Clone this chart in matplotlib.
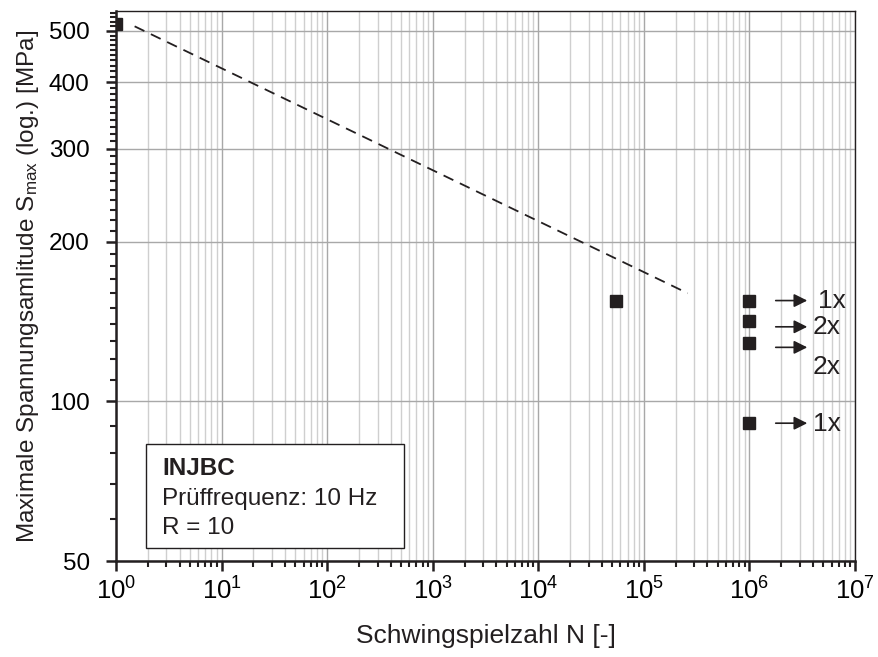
import matplotlib
matplotlib.use('Agg')
import matplotlib.pyplot as plt
from matplotlib.ticker import FixedLocator, NullFormatter, LogLocator, LogFormatterMathtext
from matplotlib.patches import Rectangle

plt.rcParams['font.family'] = ['Liberation Sans', 'DejaVu Sans']
plt.rcParams['mathtext.fontset'] = 'custom'
plt.rcParams['mathtext.rm'] = 'Liberation Sans'
plt.rcParams['mathtext.it'] = 'Liberation Sans'

# Versuchsdaten (Bruch / Durchlaeufer)
N_points = [1.0, 5.5e4, 1e6, 1e6, 1e6, 1e6]
S_points = [515, 155, 155, 142, 129, 91]

# Woehlerlinie (gestrichelt)
fit_N = [1.5, 2.6e5]
fit_S = [510, 160]

# Durchlaeufer-Pfeile
arrow_S = [155, 138.3, 126.5, 91.0]
arrow_start = 1.67e6
arrow_end = 3.75e6
runout_labels = ['1x', '2x', '2x', '1x']
runout_label_N = [4.45e6, 3.98e6, 3.98e6, 3.98e6]
runout_label_S = [155, 138.3, 116.3, 90.8]

y_major = [50, 100, 200, 300, 400, 500]
y_minor = [60, 70, 80, 90] + list(range(110, 200, 10)) + list(range(210, 300, 10)) \
    + list(range(310, 400, 10)) + list(range(410, 500, 10)) + list(range(510, 550, 10))

fig = plt.figure(figsize=(8.79, 6.57), dpi=100)
ax = fig.add_axes([0.132, 0.146, 0.8407, 0.8372])

ax.set_xscale('log')
ax.set_yscale('log')
ax.set_xlim(1, 1e7)
ax.set_ylim(50, 545)

# Gitter
ax.xaxis.set_major_locator(LogLocator(base=10, numticks=20))
ax.xaxis.set_minor_locator(LogLocator(base=10, subs=range(2, 10), numticks=20))
ax.xaxis.set_major_formatter(LogFormatterMathtext())
ax.xaxis.set_minor_formatter(NullFormatter())
ax.yaxis.set_major_locator(FixedLocator(y_major))
ax.yaxis.set_minor_locator(FixedLocator(y_minor))
ax.yaxis.set_major_formatter(plt.FuncFormatter(lambda v, p: '%d' % v))
ax.yaxis.set_minor_formatter(NullFormatter())

ax.grid(which='major', axis='x', color='#a8a8a8', lw=1.0)
ax.grid(which='minor', axis='x', color='#cfcfcf', lw=1.0)
ax.grid(which='major', axis='y', color='#a8a8a8', lw=1.0)
ax.set_axisbelow(True)

ax.tick_params(which='major', direction='out', length=7, width=1.8, labelsize=18.5, color='#231f20')
ax.tick_params(which='minor', direction='out', length=4, width=1.5, color='#231f20')
ax.tick_params(axis='x', which='major', pad=5)
ax.tick_params(axis='y', which='major', pad=12, labelsize=17.5)
for sp in ax.spines.values():
    sp.set_color('#231f20')
    sp.set_linewidth(1.0)
ax.spines['left'].set_linewidth(1.8)
ax.spines['bottom'].set_linewidth(1.8)

ax.plot(fit_N, fit_S, ls=(0, (6, 4)), color='#231f20', lw=1.3)
ax.plot(N_points, S_points, ls='none', marker='s', ms=8, color='#231f20')

for s in arrow_S:
    ax.annotate('', xy=(arrow_end, s), xytext=(arrow_start, s),
                arrowprops=dict(arrowstyle='-|>', color='#231f20', lw=1.2, mutation_scale=20))
for lab, n, s in zip(runout_labels, runout_label_N, runout_label_S):
    ax.text(n, s, lab, fontsize=19, va='center', ha='left', color='#231f20')

# Infobox
ax.add_patch(Rectangle((0.0402, 0.0242), 0.3495, 0.188, transform=ax.transAxes,
                       fill=True, facecolor='white', edgecolor='#231f20', lw=1.0, zorder=3))
ax.text(0.0622, 0.169, 'INJBC', transform=ax.transAxes, fontsize=17.5, fontweight='bold',
        va='center', zorder=4, color='#231f20')
ax.text(0.0622, 0.113, 'Prüffrequenz: 10 Hz', transform=ax.transAxes, fontsize=17.5,
        va='center', zorder=4, color='#231f20')
ax.text(0.0622, 0.060, 'R = 10', transform=ax.transAxes, fontsize=17.5,
        va='center', zorder=4, color='#231f20')

ax.set_xlabel('Schwingspielzahl N [-]', fontsize=19, labelpad=14, color='#231f20')
ax.set_ylabel('Maximale Spannungsamlitude S$_{\\mathrm{max}}$ (log.) [MPa]', fontsize=17.5,
              labelpad=6, color='#231f20')

fig.savefig('out.png', dpi=100)
